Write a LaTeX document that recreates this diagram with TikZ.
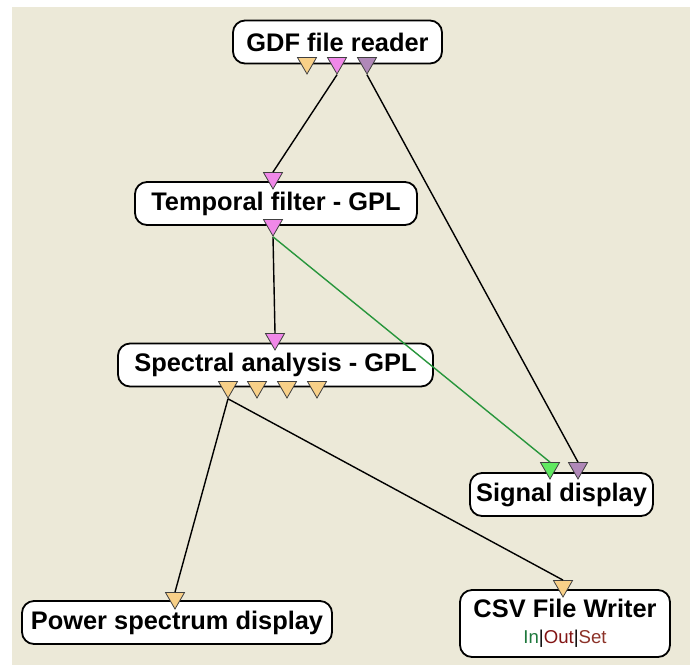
\documentclass[tikz,border=0pt]{standalone}
\usepackage{fontspec}
\setmainfont{Liberation Sans}
\usetikzlibrary{shapes.geometric}

\definecolor{deskbg}{RGB}{236,233,216}
\definecolor{portorange}{RGB}{248,208,136}
\definecolor{portpink}{RGB}{240,136,232}
\definecolor{portpurple}{RGB}{176,136,184}
\definecolor{portgreen}{RGB}{96,232,96}
\definecolor{linkgreen}{RGB}{40,150,60}
\definecolor{ingreen}{RGB}{30,120,60}
\definecolor{outred}{RGB}{130,20,20}
\definecolor{setred}{RGB}{140,50,40}

\tikzset{
    box/.style={draw=black, line width=0.9pt, fill=white, rounded corners=6pt,
        minimum height=21.5pt, inner sep=0pt,
        font=\fontsize{12.7}{14}\selectfont\bfseries},
    port/.style={regular polygon, regular polygon sides=3, shape border rotate=180,
        draw=black!75, line width=0.4pt, minimum size=11pt, inner sep=0pt},
    link/.style={line width=0.7pt}
}

\begin{document}
\begin{tikzpicture}[x=0.5pt,y=-0.5pt]
    \useasboundingbox (0,0) rectangle (690,665);
    \fill[deskbg] (12,7) rectangle (690,665);
    % boxes
    \node[box, minimum width=104.5pt] (reader) at (337.5,42) {GDF file reader};
    \node[box, minimum width=141pt] (filter) at (276,203.5) {Temporal filter - GPL};
    \node[box, minimum width=157.5pt] (spectral) at (275.5,365) {Spectral analysis - GPL};
    \node[box, minimum width=91.5pt] (signal) at (561.5,494.5) {Signal display};
    \node[box, minimum width=155pt] (power) at (177,622.5) {Power spectrum display};
    \node[box, minimum width=105pt, minimum height=33.5pt, align=center] (csv) at (565,623.5)
        {CSV File Writer\\[-1pt]{\fontsize{9.3}{10}\selectfont\mdseries
        \textcolor{ingreen}{In}|\textcolor{outred}{Out}|\textcolor{setred}{Set}}};
    % ports
    \node[port, fill=portorange] (readerOutA) at (307,63) {};
    \node[port, fill=portpink] (readerOutB) at (337,63) {};
    \node[port, fill=portpurple] (readerOutC) at (367,63) {};
    \node[port, fill=portpink] (filterIn) at (273,178) {};
    \node[port, fill=portpink] (filterOut) at (273,225) {};
    \node[port, fill=portpink] (spectralIn) at (275,339) {};
    \node[port, fill=portorange] (spectralOutA) at (228,387) {};
    \node[port, fill=portorange] (spectralOutB) at (257,387) {};
    \node[port, fill=portorange] (spectralOutC) at (287,387) {};
    \node[port, fill=portorange] (spectralOutD) at (317,387) {};
    \node[port, fill=portgreen] (signalInA) at (550,468) {};
    \node[port, fill=portpurple] (signalInB) at (578,468) {};
    \node[port, fill=portorange] (powerIn) at (175,598) {};
    \node[port, fill=portorange] (csvIn) at (563,586) {};
    % links
    \draw[link] (readerOutB.south) -- (filterIn.north);
    \draw[link] (readerOutC.south) -- (signalInB.north);
    \draw[link] (filterOut.south) -- (spectralIn.north);
    \draw[link, linkgreen] (filterOut.south) -- (signalInA.north);
    \draw[link] (spectralOutA.south) -- (powerIn.north);
    \draw[link] (spectralOutA.south) -- (csvIn.north);
\end{tikzpicture}
\end{document}
